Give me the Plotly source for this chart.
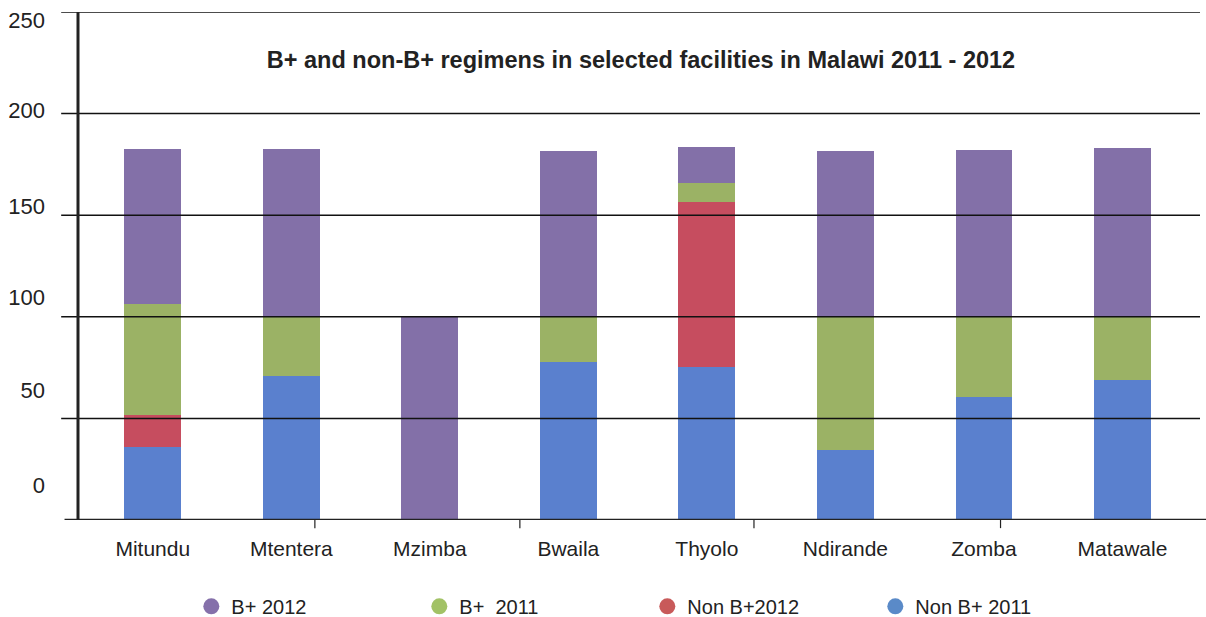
import plotly.graph_objects as go

facilities = ["Mitundu", "Mtentera", "Mzimba", "Bwaila", "Thyolo", "Ndirande", "Zomba", "Matawale"]
non_bplus_2011 = [36, 70.7, 0, 77.7, 75.3, 34.6, 60.6, 69.1]
non_bplus_2012 = [15.6, 0, 0, 0, 81.3, 0, 0, 0]
bplus_2011 = [54.8, 29.3, 0, 22.3, 9.1, 65.4, 39.4, 30.9]
bplus_2012 = [76, 82.8, 100, 81.8, 18.1, 81.8, 82.3, 83.3]

y_tick_labels = ["0", "50", "100", "150", "200", "250"]
y_label_positions = [17, 64, 109.5, 154.5, 201.5, 246]
grid_values = [50, 100, 150, 200, 250]
x_tick_marks = [1.17, 2.65, 4.34, 6.12]

series = [
    ("Non B+ 2011", non_bplus_2011, "#5A80CE"),
    ("Non B+2012", non_bplus_2012, "#C64D5F"),
    ("B+  2011", bplus_2011, "#9BB265"),
    ("B+ 2012", bplus_2012, "#8370A8"),
]
legend_order = [
    ("B+ 2012", "#8570AA"),
    ("B+  2011", "#A2C266"),
    ("Non B+2012", "#C85A5A"),
    ("Non B+ 2011", "#5A8AC8"),
]

xi = list(range(len(facilities)))
fig = go.Figure()
for name, vals, color in series:
    fig.add_trace(go.Bar(x=xi, y=vals, name=name, marker=dict(color=color, line=dict(width=0)),
                         width=0.41, showlegend=False))
for name, color in legend_order:
    fig.add_trace(go.Scatter(x=[None], y=[None], mode="markers", name=name,
                             marker=dict(symbol="circle", size=19, color=color)))

shapes = []
for g in grid_values:
    shapes.append(dict(type="line", xref="paper", yref="y", x0=-0.015, x1=1.0, y0=g, y1=g,
                       line=dict(color="#111", width=1.5), layer="above"))
# bottom axis line
shapes.append(dict(type="line", xref="paper", yref="y", x0=-0.012, x1=1.01, y0=0, y1=0,
                   line=dict(color="#222", width=2.5), layer="above"))
# left axis line
shapes.append(dict(type="line", xref="paper", yref="paper", x0=0, x1=0, y0=0, y1=1.0,
                   line=dict(color="#222", width=3), layer="above"))
for t in x_tick_marks:
    shapes.append(dict(type="line", xref="x", yref="paper", x0=t, x1=t, y0=0, y1=-0.016,
                       line=dict(color="#222", width=1.2)))

fig.update_layout(
    width=1206, height=617,
    margin=dict(l=78, r=6, t=12, b=97, autoexpand=False),
    barmode="stack",
    bargap=0,
    plot_bgcolor="white", paper_bgcolor="white",
    font=dict(family="Arial, Liberation Sans, sans-serif", color="#222"),
    title=dict(text="<b>B+ and non-B+ regimens in selected facilities in Malawi 2011 - 2012</b>",
               x=641 / 1206, xanchor="center", xref="container",
               y=1 - 60 / 617, yanchor="middle", yref="container",
               font=dict(size=23.5, color="#222")),
    xaxis=dict(range=[-0.54, 7.56], tickvals=xi, ticktext=facilities, showgrid=False,
               showline=False, zeroline=False, ticks="", tickfont=dict(size=21, color="#222"),
               ticklabelstandoff=14, fixedrange=True, automargin=False),
    yaxis=dict(range=[0, 250], tickvals=y_label_positions, ticktext=y_tick_labels,
               showgrid=False, zeroline=False, showline=False, ticks="",
               tickfont=dict(size=22, color="#222"), ticklabelstandoff=32, automargin=False),
    legend=dict(orientation="h", x=0.101, y=-0.17, xanchor="left", yanchor="middle",
                entrywidth=183, entrywidthmode="pixels", traceorder="normal",
                font=dict(size=20, color="#222"), itemsizing="trace"),
    shapes=shapes,
)

fig.write_html("out.html", config={"displayModeBar": False},
               post_script="document.body.style.margin='0';")
